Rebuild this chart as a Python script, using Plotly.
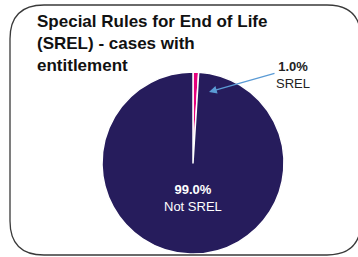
import plotly.graph_objects as go

labels = ["SREL", "Not SREL"]
values = [1.0, 99.0]
colors = ["#E5007D", "#261C5C"]
title_lines = ["Special Rules for End of Life", "(SREL) - cases with", "entitlement"]

W, H = 358, 257

def px(x):
    return x / W

def py(y):
    return 1 - y / H

fig = go.Figure()
fig.add_trace(go.Pie(
    labels=labels, values=values, sort=False, direction="counterclockwise",
    rotation=0, marker=dict(colors=colors, line=dict(color="white", width=1.5)),
    textinfo="none", hoverinfo="label+percent", showlegend=False,
    domain=dict(x=[px(102), px(284)], y=[py(254), py(72)]),
))

# rounded border
x0, x1, y0, y1, r = 10, 361, 5, 255, 34
path = (f"M {px(x0)},{py(y0 + r)} Q {px(x0)},{py(y0)} {px(x0 + r)},{py(y0)} "
        f"L {px(x1 - r)},{py(y0)} Q {px(x1)},{py(y0)} {px(x1)},{py(y0 + r)} "
        f"L {px(x1)},{py(y1 - r)} Q {px(x1)},{py(y1)} {px(x1 - r)},{py(y1)} "
        f"L {px(x0 + r)},{py(y1)} Q {px(x0)},{py(y1)} {px(x0)},{py(y1 - r)} Z")
fig.add_shape(type="path", path=path, xref="paper", yref="paper",
              line=dict(color="#3a3a3a", width=1.3))

font = "Liberation Sans, Arial, sans-serif"
fig.add_annotation(x=px(35), y=py(10), xref="paper", yref="paper", xanchor="left", yanchor="top",
                   text="<br>".join(f"<b>{t}</b>" for t in title_lines), showarrow=False, align="left",
                   font=dict(family=font, size=17, color="#111111"))

pcts = [v / sum(values) * 100 for v in values]
fig.add_annotation(x=px(293), y=py(75), xref="paper", yref="paper", xanchor="center", yanchor="middle",
                   text=f"<b>{pcts[0]:.1f}%</b><br>{labels[0]}", showarrow=False,
                   font=dict(family=font, size=13, color="#222222"))
fig.add_annotation(x=px(209), y=py(92), ax=67, ay=-19, xref="paper", yref="paper",
                   text="", showarrow=True,
                   arrowhead=2, arrowsize=1.2, arrowwidth=1.3, arrowcolor="#5B9BD5")
fig.add_annotation(x=px(193), y=py(198), xref="paper", yref="paper", xanchor="center", yanchor="middle",
                   text=f"<b>{pcts[1]:.1f}%</b><br>{labels[1]}", showarrow=False,
                   font=dict(family=font, size=13, color="white"))

fig.update_layout(width=W, height=H, margin=dict(l=0, r=0, t=0, b=0),
                  paper_bgcolor="white", plot_bgcolor="white")
fig.write_html("out.html", config={"displayModeBar": False},
               post_script="document.body.style.margin='0';")
